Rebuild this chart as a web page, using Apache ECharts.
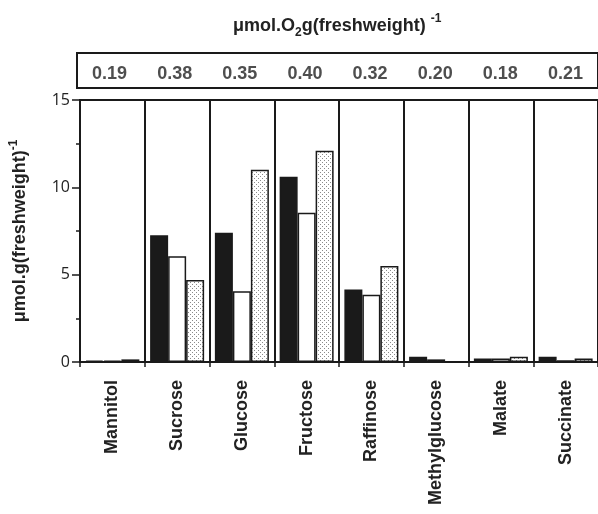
<!DOCTYPE html>
<html>
<head>
<meta charset="utf-8">
<title>O2 uptake</title>
<script src="https://cdn.jsdelivr.net/npm/echarts@6.0.0/dist/echarts.min.js"></script>
<style>
    html, body {margin: 0; padding: 0; background: #fff;}
    #main {width: 598px; height: 514px;}
</style>
</head>
<body>
<div id="main"></div>
<script>
// 底物
var categories = ['Mannitol', 'Sucrose', 'Glucose', 'Fructose', 'Raffinose', 'Methylglucose', 'Malate', 'Succinate'];
// 上方方框里的耗氧值
var o2Values = ['0.19', '0.38', '0.35', '0.40', '0.32', '0.20', '0.18', '0.21'];
// 三组柱子
var blackValues = [0.08, 7.25, 7.4, 10.6, 4.15, 0.3, 0.2, 0.3];
var whiteValues = [0.08, 6.05, 4.05, 8.55, 3.85, 0.15, 0.2, 0.1];
var dotValues = [0.15, 4.7, 11.0, 12.1, 5.5, 0, 0.3, 0.2];
var yTicks = [0, 5, 10, 15];

var font = 'Liberation Sans, Arial, sans-serif';
var ink = '#1a1a1a';

//点状填充
function dotPattern() {
    var c = document.createElement('canvas');
    c.width = 4;
    c.height = 4;
    var ctx = c.getContext('2d');
    ctx.fillStyle = '#ffffff';
    ctx.fillRect(0, 0, 4, 4);
    ctx.fillStyle = '#8a8a8a';
    ctx.fillRect(0, 0, 1, 1);
    ctx.fillRect(2, 2, 1, 1);
    return c;
}

function barSeries(name, data, color) {
    return {
        name: name,
        type: 'bar',
        xAxisIndex: 0,
        yAxisIndex: 0,
        barWidth: 18,
        barGap: '0%',
        itemStyle: {color: color, borderColor: ink, borderWidth: 1.5},
        data: data
    };
}

function initChart() {
    var myChart = echarts.init(document.getElementById('main'));
    var option = {
        backgroundColor: '#fff',
        animation: false,
        title: {
            text: 'μmol.O{sub|2}g(freshweight) {sup|-1}',
            left: 228,
            top: 8,
            textStyle: {
                fontFamily: font,
                fontWeight: 'bold',
                fontSize: 18,
                color: '#222',
                lineHeight: 26,
                rich: {
                    sub: {fontFamily: font, fontWeight: 'bold', fontSize: 12, color: '#222', verticalAlign: 'bottom', lineHeight: 26},
                    sup: {fontFamily: font, fontWeight: 'bold', fontSize: 12, color: '#222', verticalAlign: 'top', lineHeight: 26}
                }
            }
        },
        grid: [
            {left: 77, right: -2, top: 100, bottom: 152, show: true, borderColor: ink, borderWidth: 2},
            {left: 77, right: -2, top: 53, height: 35, show: true, borderColor: ink, borderWidth: 2}
        ],
        xAxis: [
            {
                type: 'category',
                gridIndex: 0,
                data: categories,
                boundaryGap: true,
                axisLine: {lineStyle: {color: ink, width: 2}},
                axisTick: {show: true, length: 5, lineStyle: {color: ink, width: 1.5}},
                axisLabel: {
                    rotate: 90,
                    margin: 18,
                    fontFamily: font,
                    fontWeight: 'bold',
                    fontSize: 18,
                    color: '#222'
                },
                splitLine: {show: true, lineStyle: {color: ink, width: 2}}
            },
            {
                type: 'category',
                gridIndex: 1,
                data: categories,
                axisLine: {show: false},
                axisTick: {show: false},
                axisLabel: {show: false},
                splitLine: {show: false}
            }
        ],
        yAxis: [
            {
                type: 'value',
                gridIndex: 0,
                min: 0,
                max: 15,
                interval: 5,
                name: 'μmol.g(freshweight){sup|-1}',
                nameLocation: 'middle',
                nameRotate: 90,
                nameGap: 48,
                nameTextStyle: {
                    fontFamily: font,
                    fontWeight: 'bold',
                    fontSize: 18,
                    color: '#222',
                    lineHeight: 24,
                    rich: {
                        sup: {fontFamily: font, fontWeight: 'bold', fontSize: 12, color: '#222', verticalAlign: 'top', lineHeight: 24}
                    }
                },
                axisLine: {show: true, lineStyle: {color: ink, width: 2}},
                axisTick: {show: true, length: 8, lineStyle: {color: ink, width: 1.5}},
                minorTick: {show: true, splitNumber: 2, length: 4, lineStyle: {color: ink, width: 1.5}},
                axisLabel: {
                    margin: 10,
                    fontFamily: 'Open Sans, DejaVu Sans, sans-serif',
                    fontSize: 16,
                    color: '#222',
                    formatter: function (v) {
                        return yTicks.indexOf(v) >= 0 ? String(v) : '';
                    }
                },
                splitLine: {show: false}
            },
            {
                type: 'value',
                gridIndex: 1,
                min: 0,
                max: 1,
                show: false
            }
        ],
        series: [
            barSeries('black', blackValues, ink),
            barSeries('white', whiteValues, '#ffffff'),
            barSeries('dotted', dotValues, {image: dotPattern(), repeat: 'repeat'}),
            {
                //方框中的数值
                type: 'scatter',
                xAxisIndex: 1,
                yAxisIndex: 1,
                symbolSize: 0,
                label: {
                    show: true,
                    position: 'inside',
                    fontFamily: font,
                    fontWeight: 'bold',
                    fontSize: 18,
                    color: '#222',
                    formatter: function (p) {
                        return o2Values[p.dataIndex];
                    }
                },
                data: categories.map(function (c) { return [c, 0.4]; })
            }
        ]
    };
    myChart.setOption(option);
}

initChart();
</script>
</body>
</html>
